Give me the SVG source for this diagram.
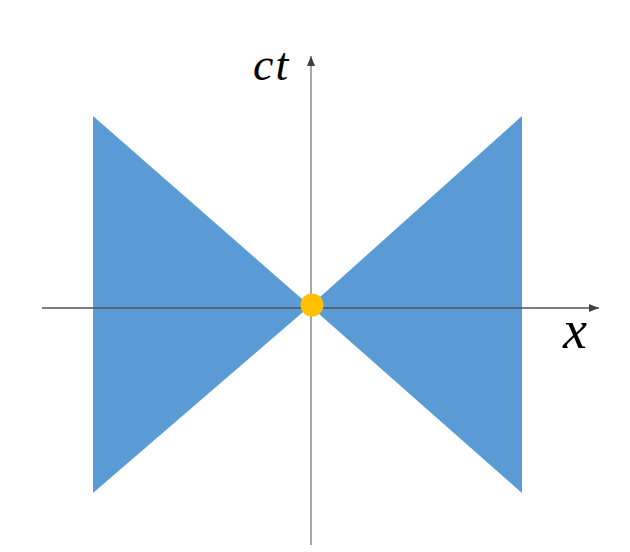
<svg xmlns="http://www.w3.org/2000/svg" width="630" height="552" viewBox="0 0 630 552">
<defs>
<style>
.cone{fill:#5B9BD5;}
.lbl{font-family:"Liberation Serif","Times New Roman",serif;font-style:italic;fill:#000;}
</style>
<marker id="arrH" viewBox="0 0 10 10" refX="10" refY="5" markerWidth="10" markerHeight="10" markerUnits="userSpaceOnUse" orient="auto">
<path d="M0,1 L10,5 L0,9 Z" fill="#404040"/>
</marker>
<marker id="arrV" viewBox="0 0 10 10" refX="10" refY="5" markerWidth="10" markerHeight="10" markerUnits="userSpaceOnUse" orient="auto">
<path d="M0,1 L10,5 L0,9 Z" fill="#404040"/>
</marker>
</defs>
<rect width="630" height="552" fill="#fff"/>
<g id="cone-left"><polygon class="cone" points="93,116 93,493 310,306"/></g>
<g id="cone-right"><polygon class="cone" points="522,116 522,493 310,306"/></g>
<g id="connectors">
<line x1="42" y1="308" x2="599" y2="308" stroke="#555" stroke-width="1.5" marker-end="url(#arrH)"/>
<line x1="311" y1="545" x2="311" y2="56" stroke="#8a8a8a" stroke-width="1.5" marker-end="url(#arrV)"/>
</g>
<g id="event"><circle cx="312" cy="305" r="11.5" fill="#FFC000"/></g>
<g id="label-ct"><text class="lbl" x="253" y="80" font-size="46" letter-spacing="2">ct</text></g>
<g id="label-x"><text class="lbl" x="563" y="348" font-size="54">x</text></g>
</svg>
